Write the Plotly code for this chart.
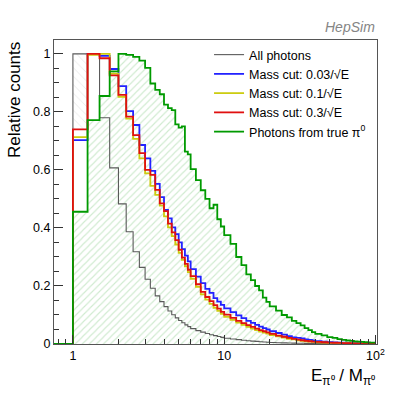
import plotly.graph_objects as go

# bin edges in E/M (0.25 wide near the peak, wider in the tail)
edges = [0.5, 1.0, 1.25, 1.5, 1.75, 2.0, 2.25, 2.5, 2.75, 3.0, 3.25, 3.5, 3.75,
         4.0, 4.25, 4.5, 4.75, 5.0, 5.25, 5.5, 5.75, 6.0,
         6.5, 7.0, 7.5, 8.0, 8.5, 9.0, 9.5, 10.0,
         11, 12, 13, 14, 15, 16, 17, 18, 19, 20,
         22, 24, 26, 28, 30, 32, 34, 36, 38, 40,
         44, 48, 52, 56, 60, 64, 68, 72, 76, 80, 84, 88, 92, 96, 100]

all_photons = [0, 1.0, 1.0, 0.78, 0.607, 0.483, 0.387, 0.318, 0.264, 0.223, 0.192, 0.166, 0.146,
               0.129, 0.114, 0.101, 0.090, 0.081, 0.073, 0.066, 0.060,
               0.053, 0.046, 0.041, 0.036, 0.032, 0.029, 0.026, 0.023,
               0.020, 0.017, 0.015, 0.013, 0.011, 0.010, 0.009, 0.008, 0.007, 0.006,
               0.005, 0.0045, 0.004, 0.0035, 0.003, 0.0027, 0.0024, 0.002, 0.0018, 0.0016,
               0.0014, 0.0012, 0.001, 0.0009, 0.0008, 0.0007, 0.0006, 0.0005, 0.0005, 0.0004,
               0.0004, 0.0003, 0.0003, 0.0003, 0.0002]

cut_003 = [0, 0.703, 1.0, 0.993, 0.948, 0.889, 0.803, 0.755, 0.686, 0.640, 0.597, 0.552, 0.506,
           0.462, 0.433, 0.402, 0.379, 0.350, 0.327, 0.305, 0.285,
           0.258, 0.232, 0.210, 0.190, 0.176, 0.158, 0.146, 0.135,
           0.123, 0.110, 0.099, 0.089, 0.080, 0.073, 0.066, 0.060, 0.055, 0.050,
           0.044, 0.038, 0.032, 0.027, 0.023, 0.021, 0.019, 0.016, 0.014, 0.012,
           0.0095, 0.008, 0.0068, 0.0058, 0.005, 0.0043, 0.0037, 0.0032, 0.0028, 0.0024,
           0.0021, 0.0018, 0.0016, 0.0014, 0.0012]

cut_01 = [0, 0.713, 0.997, 1.0, 0.932, 0.852, 0.777, 0.707, 0.640, 0.588, 0.545, 0.514, 0.477,
          0.440, 0.402, 0.372, 0.343, 0.314, 0.290, 0.268, 0.248,
          0.225, 0.197, 0.171, 0.153, 0.138, 0.125, 0.114, 0.104,
          0.094, 0.083, 0.074, 0.066, 0.059, 0.053, 0.048, 0.043, 0.039, 0.036,
          0.031, 0.026, 0.022, 0.018, 0.016, 0.013, 0.011, 0.0095, 0.008, 0.007,
          0.006, 0.005, 0.0042, 0.0036, 0.003, 0.0026, 0.0022, 0.0019, 0.0016, 0.0014,
          0.0012, 0.001, 0.0009, 0.0008, 0.0007]

cut_03 = [0, 0.740, 1.0, 0.985, 0.926, 0.859, 0.784, 0.720, 0.658, 0.600, 0.583, 0.531, 0.485,
          0.458, 0.415, 0.385, 0.358, 0.325, 0.298, 0.276, 0.256,
          0.234, 0.206, 0.180, 0.162, 0.148, 0.134, 0.122, 0.111,
          0.101, 0.090, 0.080, 0.072, 0.065, 0.059, 0.053, 0.048, 0.044, 0.040,
          0.035, 0.029, 0.025, 0.021, 0.018, 0.015, 0.013, 0.011, 0.0095, 0.0082,
          0.007, 0.006, 0.005, 0.0043, 0.0037, 0.0032, 0.0027, 0.0023, 0.002, 0.0017,
          0.0015, 0.0013, 0.0011, 0.001, 0.0008]

true_pi0 = [0, 0.456, 0.772, 0.855, 0.940, 1.0, 0.997, 0.990, 0.977, 0.952, 0.898, 0.876, 0.861,
            0.825, 0.813, 0.806, 0.757, 0.746, 0.750, 0.663, 0.654,
            0.603, 0.565, 0.530, 0.500, 0.468, 0.480, 0.430, 0.405,
            0.375, 0.345, 0.300, 0.272, 0.240, 0.220, 0.200, 0.185, 0.160, 0.145,
            0.130, 0.115, 0.100, 0.092, 0.080, 0.072, 0.064, 0.055, 0.048, 0.041,
            0.035, 0.030, 0.024, 0.021, 0.017, 0.014, 0.012, 0.011, 0.009, 0.008,
            0.007, 0.006, 0.0055, 0.005, 0.0045]

series = [
    ("All photons", all_photons, "#5a5a5a", 1.1),
    ("Mass cut: 0.03/√E", cut_003, "#2222ff", 1.8),
    ("Mass cut: 0.1/√E", cut_01, "#cccc10", 1.8),
    ("Mass cut: 0.3/√E", cut_03, "#e01010", 1.8),
    ("Photons from true π<sup>0</sup>", true_pi0, "#009a00", 1.8),
]

x_minor = [0.8, 0.9, 2, 3, 4, 5, 6, 7, 8, 9, 20, 30, 40, 50, 60, 70, 80, 90]

FONT = "Liberation Sans, Arial, Helvetica, sans-serif"


def steps(vals):
    # one value per bin -> hv step path through the edges
    return edges, list(vals) + [vals[-1]]


fig = go.Figure()

# fills first so that every outline stays on top
x, y = steps(all_photons)
fig.add_trace(go.Scatter(x=x, y=y, mode="lines", line=dict(width=0, shape="hv"),
                         fill="tozeroy", fillcolor="rgba(0,0,0,0)",
                         fillpattern=dict(shape="\\", fgcolor="#d4d4d4", bgcolor="rgba(0,0,0,0)",
                                          size=6, solidity=0.15, fillmode="overlay"),
                         showlegend=False, hoverinfo="skip"))
for vals in (cut_003, cut_01, cut_03):
    x, y = steps(vals)
    fig.add_trace(go.Scatter(x=x, y=y, mode="lines", line=dict(width=0, shape="hv"),
                             fill="tozeroy", fillcolor="white",
                             showlegend=False, hoverinfo="skip"))
x, y = steps(true_pi0)
fig.add_trace(go.Scatter(x=x, y=y, mode="lines", line=dict(width=0, shape="hv"),
                         fill="tozeroy", fillcolor="rgba(0,0,0,0)",
                         fillpattern=dict(shape="/", fgcolor="#9fd69f", bgcolor="rgba(0,0,0,0)",
                                          size=5, solidity=0.22, fillmode="overlay"),
                         showlegend=False, hoverinfo="skip"))

for name, vals, color, width in series:
    x, y = steps(vals)
    fig.add_trace(go.Scatter(x=x, y=y, mode="lines", name=name,
                             line=dict(color=color, width=width, shape="hv")))

fig.update_layout(
    width=419, height=396,
    margin=dict(l=54, r=42, t=40, b=52),
    paper_bgcolor="white", plot_bgcolor="white",
    font=dict(family=FONT, size=12.5, color="black"),
    showlegend=True,
    legend=dict(x=0.48, y=1.0, xanchor="left", yanchor="top",
                bgcolor="rgba(0,0,0,0)", font=dict(size=12.5), tracegroupgap=0),
    xaxis=dict(type="log", range=[-0.125, 2.01],
               tickmode="array", tickvals=[1, 10, 100], ticktext=["1", "10", "10<sup>2</sup>"],
               ticks="inside", ticklen=9, tickcolor="#333",
               minor=dict(tickmode="array", tickvals=x_minor, ticks="inside", ticklen=5, tickcolor="#333"),
               showgrid=False, zeroline=False,
               showline=True, mirror=True, linecolor="#555", linewidth=1),
    yaxis=dict(range=[0, 1.048],
               tickmode="array", tickvals=[0, 0.2, 0.4, 0.6, 0.8, 1.0],
               ticktext=["0", "0.2", "0.4", "0.6", "0.8", "1"],
               ticks="inside", ticklen=9, tickcolor="#333",
               minor=dict(dtick=0.05, ticks="inside", ticklen=5, tickcolor="#333"),
               showgrid=False, zeroline=False,
               showline=True, mirror=True, linecolor="#555", linewidth=1),
    annotations=[
        dict(text="<i>HepSim</i>", x=1, y=1.01, xref="paper", yref="paper",
             xanchor="right", yanchor="bottom", showarrow=False,
             font=dict(size=14, color="#858585")),
        dict(text="Relative counts", x=-0.124, y=1, xref="paper", yref="paper",
             xanchor="center", yanchor="top", textangle=-90, showarrow=False,
             font=dict(size=17)),
        dict(text="E<sub>π⁰</sub> / M<sub>π⁰</sub>", x=1, y=-0.066, xref="paper", yref="paper",
             xanchor="right", yanchor="top", showarrow=False,
             font=dict(size=17)),
    ],
)

# the page's default body margin would push the figure 8px right and down
fig.write_html("out.html", config={"displayModeBar": False},
               post_script="document.body.style.margin='0';")
